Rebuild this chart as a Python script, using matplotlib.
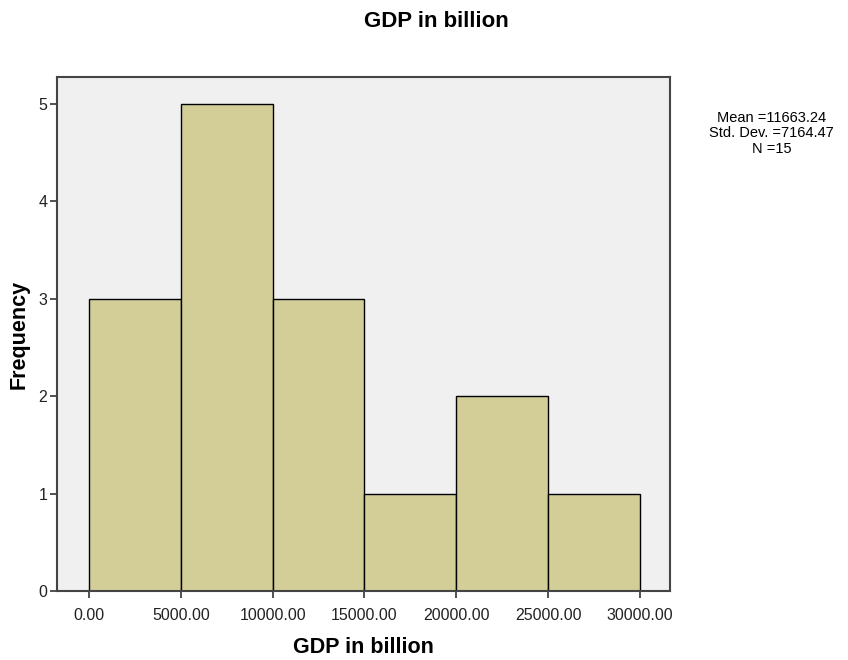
import numpy as np
import matplotlib
matplotlib.use('Agg')
import matplotlib.pyplot as plt

plt.rcParams['font.family'] = ['Liberation Sans', 'DejaVu Sans']

# Histogram bins and frequencies
bin_edges = [0, 5000, 10000, 15000, 20000, 25000, 30000]
frequencies = [3, 5, 3, 1, 2, 1]
x_ticks = [0, 5000, 10000, 15000, 20000, 25000, 30000]
y_ticks = [0, 1, 2, 3, 4, 5]
stats_lines = ['Mean =11663.24', 'Std. Dev. =7164.47', 'N =15']

fig = plt.figure(figsize=(8.48, 6.6), dpi=100)
ax = fig.add_axes([0.0672, 0.1045, 0.7229, 0.7788])
ax.set_facecolor('#F0F0F0')

ax.bar(bin_edges[:-1], frequencies, width=np.diff(bin_edges), align='edge',
       color='#D3CE98', edgecolor='black', linewidth=1.0)

ax.set_xlim(-1742, 31634)
ax.set_ylim(0, 5.277)
ax.set_xticks(x_ticks)
ax.set_xticklabels(['%.2f' % v for v in x_ticks])
ax.set_yticks(y_ticks)
ax.tick_params(axis='both', direction='out', length=5, width=1.2, labelsize=11.5,
               color='#333333', labelcolor='#222222')
ax.tick_params(axis='x', pad=7)
ax.tick_params(axis='y', pad=2)
for s in ax.spines.values():
    s.set_color('#444444')
    s.set_linewidth(1.5)

ax.set_xlabel('GDP in billion', fontsize=15.5, fontweight='bold', labelpad=10)
ax.set_ylabel('Frequency', fontsize=15.5, fontweight='bold', labelpad=6)
fig.text(0.515, 0.967, 'GDP in billion', fontsize=16, fontweight='bold',
         ha='center', va='center')

fig.text(0.910, 0.798, '\n'.join(stats_lines), fontsize=10.5, ha='center', va='center',
         linespacing=1.12)

fig.savefig('out.png', dpi=100)
